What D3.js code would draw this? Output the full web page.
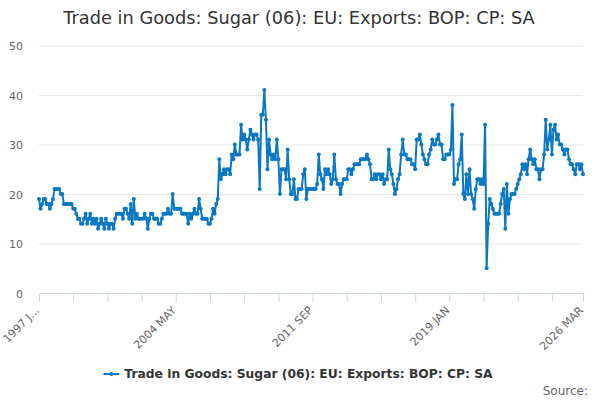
<!DOCTYPE html>
<html>
<head>
<meta charset="utf-8">
<script src="https://cdn.jsdelivr.net/npm/d3@7"></script>
<style>
  body { margin: 0; background: #fff; }
  svg { display: block; font-family: "DejaVu Sans", sans-serif; }
</style>
</head>
<body>
<svg></svg>
<script>
// monthly values, 1997 JAN .. 2026 MAR (one row per year)
const firstMonth = new Date(1997, 0, 1)
const exportValues = [
  19,17,18,19,19,18,18,17,18,19,21,21,
  21,21,20,20,18,18,18,18,18,18,17,17,
  16,15,15,14,14,15,16,14,15,16,14,15,
  14,15,13,14,15,14,13,15,14,13,14,14,
  13,15,16,16,16,16,15,17,17,16,15,18,
  14,19,15,16,15,15,15,15,16,15,13,15,
  16,16,15,15,15,14,14,15,16,16,16,17,
  16,16,20,17,17,17,17,17,16,16,16,16,
  14,16,15,16,17,16,16,19,17,15,15,15,
  15,14,14,15,17,16,18,19,27,23,24,25,
  24,25,25,24,28,27,30,28,28,28,34,31,
  32,31,29,31,33,32,31,32,32,31,21,36,
  36,41,35,25,31,28,27,28,27,31,27,20,
  25,25,25,23,29,23,20,20,23,19,19,21,
  21,21,24,25,19,21,21,21,21,21,21,22,
  28,24,23,21,25,24,25,24,22,23,28,23,
  22,22,20,22,23,23,23,25,25,24,25,26,
  26,26,26,27,27,27,27,28,27,26,23,23,
  24,23,24,24,23,24,22,23,23,29,25,24,
  22,20,21,23,24,28,31,28,28,27,27,27,
  26,26,25,31,31,32,30,28,27,26,26,28,
  29,31,30,30,31,32,30,30,27,27,28,28,
  28,29,38,22,23,23,26,27,32,20,19,24,
  20,25,20,19,17,21,23,23,22,23,22,34,
  5,14,19,18,17,16,16,16,16,18,20,21,
  13,22,16,19,20,20,20,21,22,23,24,26,
  25,26,24,27,29,27,26,27,25,25,23,25,
  25,28,35,29,31,34,28,33,34,31,32,30,
  30,29,28,29,29,27,26,26,25,24,26,26,
  25,26,24
]
const months = exportValues.map((v, i) => d3.timeMonth.offset(firstMonth, i))
const fmt = d3.timeFormat("%Y %b")
const monthLabels = months.map(d => fmt(d).toUpperCase())

const yTicks = [0, 10, 20, 30, 40, 50]
const xTickStep = 22
const xLabelMonths = ["1997 JAN", "2004 MAY", "2011 SEP", "2019 JAN", "2026 MAR"]
const xLabelTexts = ["1997 J…", "2004 MAY", "2011 SEP", "2019 JAN", "2026 MAR"]

const seriesName = "Trade in Goods: Sugar (06): EU: Exports: BOP: CP: SA"
const titleText = "Trade in Goods: Sugar (06): EU: Exports: BOP: CP: SA"
const lineColor = "#0a78c2"

const width = 600, height = 400
const margin = {top: 45.5, right: 17, bottom: 107, left: 39}

const svg = d3.select("svg").attr("width", width).attr("height", height)

const x = d3.scalePoint()
  .domain(monthLabels)
  .range([margin.left, width - margin.right])

const y = d3.scaleLinear()
  .domain([0, 50])
  .range([height - margin.bottom, margin.top])

// title
svg.append("text")
  .attr("x", width / 2 - 1)
  .attr("y", 24)
  .attr("text-anchor", "middle")
  .attr("fill", "#333")
  .style("font-size", "17.8px")
  .text(titleText)

// grid + y labels
const yAxis = g => g
  .attr("transform", `translate(${margin.left},0)`)
  .call(d3.axisLeft(y).tickValues(yTicks).tickSize(-(width - margin.left - margin.right)).tickPadding(16))
  .call(g => g.select(".domain").remove())
  .call(g => g.selectAll(".tick line").attr("stroke", "#e6e6e6"))
  .call(g => g.selectAll(".tick line").filter(d => d === 0).remove())
  .call(g => g.selectAll(".tick text").attr("fill", "#666").style("font-size", "11px").attr("dy", "0.4em"))

svg.append("g").call(yAxis).attr("font-family", null)

// x axis
const tickMonths = monthLabels.filter((d, i) => i % xTickStep === 0 || i === monthLabels.length - 1)

const xAxis = g => g
  .attr("transform", `translate(0,${height - margin.bottom})`)
  .call(d3.axisBottom(x).tickValues(tickMonths).tickSize(9).tickSizeOuter(0).tickFormat(""))
  .call(g => g.select(".domain").attr("stroke", "#ccd6eb"))
  .call(g => g.selectAll(".tick line").attr("stroke", "#ccd6eb"))

svg.append("g").call(xAxis)

svg.append("g")
  .selectAll("text")
  .data(xLabelMonths)
  .join("text")
  .attr("transform", d => `translate(${x(d) + 1},${height - margin.bottom + 18}) rotate(-45)`)
  .attr("text-anchor", "end")
  .attr("fill", "#666")
  .style("font-size", "11px")
  .text((d, i) => xLabelTexts[i])

// series
const line = d3.line()
  .x((d, i) => x(monthLabels[i]))
  .y(d => y(d))

svg.append("path")
  .datum(exportValues)
  .attr("fill", "none")
  .attr("stroke", lineColor)
  .attr("stroke-width", 2)
  .attr("stroke-linejoin", "round")
  .attr("d", line)

svg.append("g")
  .selectAll("circle")
  .data(exportValues)
  .join("circle")
  .attr("cx", (d, i) => x(monthLabels[i]))
  .attr("cy", d => y(d))
  .attr("r", 2)
  .attr("fill", lineColor)

// legend
const legend = svg.append("g")
const legendText = legend.append("text")
  .attr("y", 378)
  .attr("fill", "#333")
  .style("font-size", "12.3px")
  .style("font-weight", "bold")
  .text(seriesName)
const tw = legendText.node().getComputedTextLength()
const lx = (width - tw - 21) / 2 - 2
legendText.attr("x", lx + 21)
legend.append("line")
  .attr("x1", lx).attr("x2", lx + 16)
  .attr("y1", 374).attr("y2", 374)
  .attr("stroke", lineColor).attr("stroke-width", 2)
legend.append("circle")
  .attr("cx", lx + 8).attr("cy", 374).attr("r", 2)
  .attr("fill", lineColor)

svg.append("text")
  .attr("x", 588)
  .attr("y", 395)
  .attr("text-anchor", "end")
  .attr("fill", "#666")
  .style("font-size", "12px")
  .text("Source:")
</script>
</body>
</html>
